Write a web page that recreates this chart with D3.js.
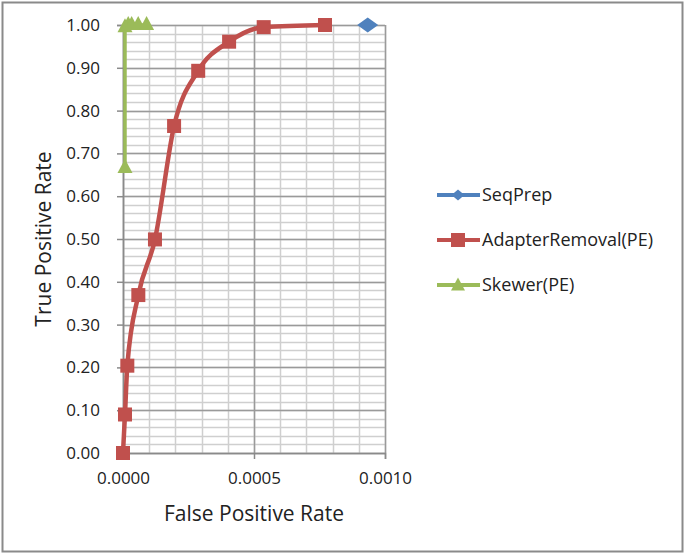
<!DOCTYPE html>
<html>
<head>
<meta charset="utf-8">
<script src="https://cdn.jsdelivr.net/npm/d3@7"></script>
<style>
  body { margin: 0; background: #fff; }
  text { font-family: "Open Sans", sans-serif; fill: #222; }
</style>
</head>
<body>
<script>
// data
var seqPrepFPR = [0.000934],
    seqPrepTPR = [1.0];

var adapterFPR = [0.0, 0.0000076, 0.0000165, 0.0000585, 0.000122, 0.000195, 0.000287, 0.000405, 0.000537, 0.000771],
    adapterTPR = [0.0, 0.090, 0.204, 0.369, 0.499, 0.764, 0.893, 0.961, 0.995, 1.0];

var skewerFPR = [0.0000076, 0.0000076, 0.00002, 0.000033, 0.000058, 0.00009],
    skewerTPR = [0.666, 0.995, 1.0, 1.0, 1.0, 1.0];

var seriesNames = ["SeqPrep", "AdapterRemoval(PE)", "Skewer(PE)"],
    seriesColors = ["#4F81BD", "#C0504D", "#9BBB59"];

var xTicks = [0, 0.0005, 0.001],
    yTicks = [0, 0.1, 0.2, 0.3, 0.4, 0.5, 0.6, 0.7, 0.8, 0.9, 1.0];

var width = 685, height = 554;

var svg = d3.select("body").append("svg")
    .attr("width", width)
    .attr("height", height);

//outer frame
svg.append("rect")
    .attr("x", 2.5).attr("y", 2.5)
    .attr("width", 680).attr("height", 549)
    .attr("fill", "#fff")
    .attr("stroke", "#8a8a8a")
    .attr("stroke-width", 2);

var x = d3.scaleLinear().domain([0, 0.001]).range([123, 385]),
    y = d3.scaleLinear().domain([0, 1]).range([453, 25]);

//minor grid
var grid = svg.append("g");
grid.selectAll(".vminor")
    .data(d3.range(0, 11).map(function(i){ return i * 0.0001; }))
    .enter().append("line")
    .attr("x1", function(d){ return Math.round(x(d)) + 0.5; })
    .attr("x2", function(d){ return Math.round(x(d)) + 0.5; })
    .attr("y1", y(0)).attr("y2", y(1))
    .attr("stroke", "#cfcfcf").attr("stroke-width", 1.5);
grid.selectAll(".hminor")
    .data(d3.range(0, 51).map(function(i){ return i * 0.02; }))
    .enter().append("line")
    .attr("x1", x(0)).attr("x2", x(0.001))
    .attr("y1", function(d){ return Math.round(y(d)) + 0.5; })
    .attr("y2", function(d){ return Math.round(y(d)) + 0.5; })
    .attr("stroke", "#cfcfcf").attr("stroke-width", 1.5);

//major grid
grid.selectAll(".hmajor")
    .data(yTicks)
    .enter().append("line")
    .attr("x1", x(0)).attr("x2", x(0.001))
    .attr("y1", function(d){ return Math.round(y(d)) + 0.5; })
    .attr("y2", function(d){ return Math.round(y(d)) + 0.5; })
    .attr("stroke", "#9a9a9a").attr("stroke-width", 1.5);
grid.selectAll(".vmajor")
    .data(xTicks)
    .enter().append("line")
    .attr("x1", function(d){ return Math.round(x(d)) + 0.5; })
    .attr("x2", function(d){ return Math.round(x(d)) + 0.5; })
    .attr("y1", y(0)).attr("y2", y(1))
    .attr("stroke", "#9a9a9a").attr("stroke-width", 1.5);

//axes
var yAxis = svg.append("g")
    .attr("transform", "translate(" + x(0) + ",0)")
    .call(d3.axisLeft(y).tickValues(yTicks).tickFormat(d3.format(".2f")).tickSize(6).tickPadding(17));
var xAxis = svg.append("g")
    .attr("transform", "translate(0," + y(0) + ")")
    .call(d3.axisBottom(x).tickValues(xTicks).tickFormat(d3.format(".4f")).tickSize(6).tickPadding(13));

[yAxis, xAxis].forEach(function(ax){
    ax.select(".domain").attr("stroke", "#8a8a8a").attr("stroke-width", 1.5);
    ax.selectAll(".tick line").attr("stroke", "#8a8a8a").attr("stroke-width", 1.5);
    ax.selectAll(".tick text")
        .style("font-family", "'Open Sans', sans-serif")
        .style("font-size", "17px")
        .attr("fill", "#222");
});

//axis titles
svg.append("text")
    .attr("x", 254).attr("y", 521)
    .attr("text-anchor", "middle")
    .style("font-size", "21px")
    .text("False Positive Rate");
svg.append("text")
    .attr("transform", "translate(51,239) rotate(-90)")
    .attr("text-anchor", "middle")
    .style("font-size", "21px")
    .text("True Positive Rate");

//series
var smooth = d3.line()
    .x(function(d){ return x(d[0]); })
    .y(function(d){ return y(d[1]); })
    .curve(d3.curveMonotoneX);
var straight = d3.line()
    .x(function(d){ return x(d[0]); })
    .y(function(d){ return y(d[1]); });

var adapterPts = d3.zip(adapterFPR, adapterTPR),
    skewerPts = d3.zip(skewerFPR, skewerTPR),
    seqPts = d3.zip(seqPrepFPR, seqPrepTPR);

svg.append("path")
    .datum(skewerPts)
    .attr("d", straight)
    .attr("fill", "none")
    .attr("stroke", seriesColors[2])
    .attr("stroke-width", 3.5);

svg.append("path")
    .datum(adapterPts)
    .attr("d", smooth)
    .attr("fill", "none")
    .attr("stroke", seriesColors[1])
    .attr("stroke-width", 4.5);

var diamond = function(cx, cy, w, h){
    return "M" + (cx - w/2) + "," + cy + "L" + cx + "," + (cy - h/2) +
        "L" + (cx + w/2) + "," + cy + "L" + cx + "," + (cy + h/2) + "Z";
};
var triangle = function(cx, cy, w, h){
    return "M" + (cx - w/2) + "," + (cy + h/2) + "L" + cx + "," + (cy - h/2) +
        "L" + (cx + w/2) + "," + (cy + h/2) + "Z";
};

svg.selectAll(".sq")
    .data(adapterPts)
    .enter().append("rect")
    .attr("x", function(d){ return x(d[0]) - 7; })
    .attr("y", function(d){ return y(d[1]) - 7; })
    .attr("width", 14).attr("height", 14)
    .attr("fill", seriesColors[1]);

svg.selectAll(".tri")
    .data(skewerPts)
    .enter().append("path")
    .attr("d", function(d){ return triangle(x(d[0]), y(d[1]) - 2, 15, 14); })
    .attr("fill", seriesColors[2]);

svg.selectAll(".dia")
    .data(seqPts)
    .enter().append("path")
    .attr("d", function(d){ return diamond(x(d[0]), y(d[1]), 21, 15); })
    .attr("fill", seriesColors[0]);

//legend
var legendY = [195, 240, 285];
var legend = svg.selectAll(".legend")
    .data(seriesNames)
    .enter().append("g")
    .attr("transform", function(d, i){ return "translate(0," + legendY[i] + ")"; });

legend.append("line")
    .attr("x1", 437).attr("x2", 480)
    .attr("y1", 0).attr("y2", 0)
    .attr("stroke", function(d, i){ return seriesColors[i]; })
    .attr("stroke-width", 4);

legend.append("path")
    .attr("d", function(d, i){
        if (i == 0) return diamond(458, 0, 13, 11);
        if (i == 1) return "M451,-7H465V7H451Z";
        return triangle(458, -1, 14, 13);
    })
    .attr("fill", function(d, i){ return seriesColors[i]; });

legend.append("text")
    .attr("x", 482).attr("y", 0)
    .attr("dy", "0.35em")
    .style("font-size", "18px")
    .text(function(d){ return d; });
</script>
</body>
</html>
